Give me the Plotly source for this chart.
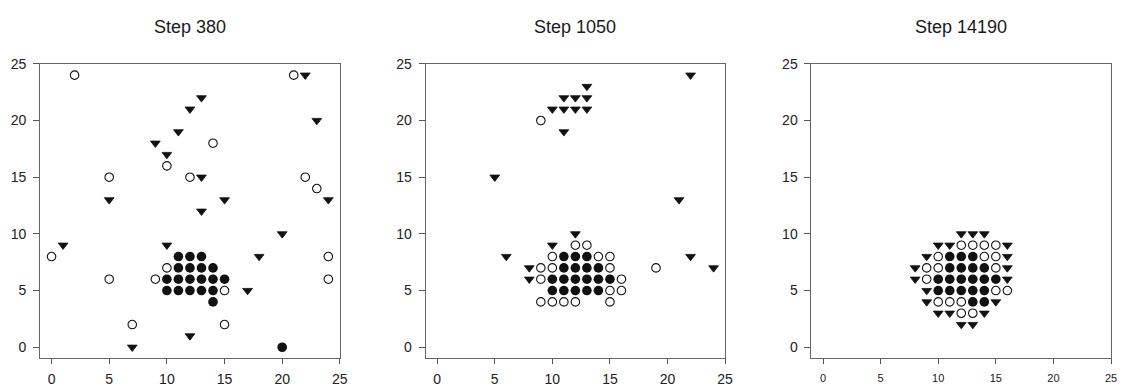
import plotly.graph_objects as go

titles = ["Step 380", "Step 1050", "Step 14190"]

# Panel 1 (Step 380)
p1_tri_x = [22, 13, 12, 23, 11, 9, 10, 13, 5, 15, 24, 13, 20, 1, 10, 18, 17, 12, 7]
p1_tri_y = [24, 22, 21, 20, 19, 18, 17, 15, 13, 13, 13, 12, 10, 9, 9, 8, 5, 1, 0]
p1_open_x = [2, 21, 14, 10, 5, 12, 22, 23, 0, 24, 10, 5, 9, 24, 15, 7, 15]
p1_open_y = [24, 24, 18, 16, 15, 15, 15, 14, 8, 8, 7, 6, 6, 6, 5, 2, 2]
p1_fill_x = [11, 12, 13, 11, 12, 13, 14, 10, 11, 12, 13, 14, 15, 10, 11, 12, 13, 14, 14, 20]
p1_fill_y = [8, 8, 8, 7, 7, 7, 7, 6, 6, 6, 6, 6, 6, 5, 5, 5, 5, 5, 4, 0]

# Panel 2 (Step 1050)
p2_tri_x = [22, 13, 11, 12, 13, 10, 11, 12, 13, 11, 5, 21, 12, 10, 6, 22, 8, 24, 8]
p2_tri_y = [24, 23, 22, 22, 22, 21, 21, 21, 21, 19, 15, 13, 10, 9, 8, 8, 7, 7, 6]
p2_open_x = [9, 12, 13, 10, 14, 15, 9, 10, 15, 19, 9, 16, 15, 16, 9, 10, 11, 12, 15]
p2_open_y = [20, 9, 9, 8, 8, 8, 7, 7, 7, 7, 6, 6, 5, 5, 4, 4, 4, 4, 4]
p2_fill_x = [11, 12, 13, 11, 12, 13, 14, 10, 11, 12, 13, 14, 15, 10, 11, 12, 13, 14]
p2_fill_y = [8, 8, 8, 7, 7, 7, 7, 6, 6, 6, 6, 6, 6, 5, 5, 5, 5, 5]

# Panel 3 (Step 14190)
p3_tri_x = [12, 13, 14, 10, 11, 16, 9, 16, 8, 16, 8, 16, 9, 9, 15, 10, 11, 14, 12, 13]
p3_tri_y = [10, 10, 10, 9, 9, 9, 8, 8, 7, 7, 6, 6, 5, 4, 4, 3, 3, 3, 2, 2]
p3_open_x = [12, 13, 14, 15, 10, 14, 15, 9, 10, 15, 9, 15, 16, 10, 11, 12, 12, 13]
p3_open_y = [9, 9, 9, 9, 8, 8, 8, 7, 7, 7, 6, 5, 5, 4, 4, 4, 3, 3]
p3_fill_x = [11, 12, 13, 11, 12, 13, 14, 10, 11, 12, 13, 14, 15, 10, 11, 12, 13, 14, 13, 14]
p3_fill_y = [8, 8, 8, 7, 7, 7, 7, 6, 6, 6, 6, 6, 6, 5, 5, 5, 5, 5, 4, 4]

tick_vals = [0, 5, 10, 15, 20, 25]

panels = [
    (p1_tri_x, p1_tri_y, p1_open_x, p1_open_y, p1_fill_x, p1_fill_y),
    (p2_tri_x, p2_tri_y, p2_open_x, p2_open_y, p2_fill_x, p2_fill_y),
    (p3_tri_x, p3_tri_y, p3_open_x, p3_open_y, p3_fill_x, p3_fill_y),
]

W, H = 1125, 387
x_domains = [(40.3 / W, 342.3 / W), (428.7 / W, 730.3 / W), (817.3 / W, 1119.0 / W)]
y_domain = (1 - 359.3 / H, 1 - 57.3 / H)

fig = go.Figure()
font_family = "Liberation Sans, Arial, sans-serif"

for i, (tx, ty, ox, oy, fx, fy) in enumerate(panels):
    xa = "x" if i == 0 else f"x{i+1}"
    ya = "y" if i == 0 else f"y{i+1}"
    fig.add_trace(go.Scatter(x=tx, y=ty, mode="markers", xaxis=xa, yaxis=ya,
                             marker=dict(symbol="triangle-down", size=8.5, color="#111111",
                                         line=dict(width=0.8, color="#111111")),
                             showlegend=False, hoverinfo="skip"))
    fig.add_trace(go.Scatter(x=ox, y=oy, mode="markers", xaxis=xa, yaxis=ya,
                             marker=dict(symbol="circle", size=8.5, color="white",
                                         line=dict(width=1.1, color="#111111")),
                             showlegend=False, hoverinfo="skip"))
    fig.add_trace(go.Scatter(x=fx, y=fy, mode="markers", xaxis=xa, yaxis=ya,
                             marker=dict(symbol="circle", size=9.6, color="#111111",
                                         line=dict(width=0)),
                             showlegend=False, hoverinfo="skip"))

layout = dict(
    width=W, height=H,
    margin=dict(l=0, r=0, t=0, b=0),
    paper_bgcolor="white", plot_bgcolor="white",
    font=dict(family=font_family, color="#222222"),
    annotations=[],
)

for i in range(3):
    xk = "xaxis" if i == 0 else f"xaxis{i+1}"
    yk = "yaxis" if i == 0 else f"yaxis{i+1}"
    xa_anchor = "y" if i == 0 else f"y{i+1}"
    ya_anchor = "x" if i == 0 else f"x{i+1}"
    layout[xk] = dict(
        domain=list(x_domains[i]), anchor=xa_anchor, range=[-1, 25],
        tickvals=tick_vals, ticks="outside", ticklen=5, tickwidth=1, tickcolor="#555555",
        showline=True, linecolor="#666666", linewidth=1, mirror=True,
        showgrid=False, zeroline=False,
        tickfont=dict(size=11 if i == 2 else 14, color="#222222", family=font_family),
        ticklabelstandoff=5 if i == 2 else 3,
    )
    layout[yk] = dict(
        domain=list(y_domain), anchor=ya_anchor, range=[-0.95, 25],
        tickvals=tick_vals, ticks="outside", ticklen=6, tickwidth=1, tickcolor="#555555",
        showline=True, linecolor="#666666", linewidth=1, mirror=True,
        showgrid=False, zeroline=False,
        tickfont=dict(size=14, color="#222222", family=font_family),
        ticklabelstandoff=4,
    )
    cx = (x_domains[i][0] + x_domains[i][1]) / 2
    layout["annotations"].append(dict(
        text=titles[i], x=cx, y=1 - 20 / H, xref="paper", yref="paper",
        xanchor="center", yanchor="middle", showarrow=False,
        font=dict(size=18, color="#1a1a1a", family=font_family),
    ))

fig.update_layout(**layout)
fig.write_html("out.html")
